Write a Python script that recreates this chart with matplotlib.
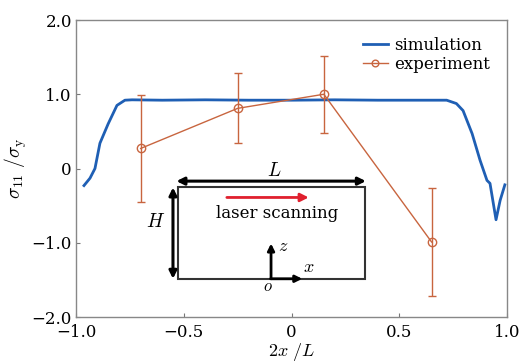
import matplotlib
matplotlib.use("Agg")
import matplotlib.pyplot as plt
from matplotlib.patches import Rectangle

plt.rcParams["font.family"] = "DejaVu Serif"
plt.rcParams["mathtext.fontset"] = "cm"
plt.rcParams["axes.unicode_minus"] = True

# simulation curve
x_sim = [-0.963, -0.935, -0.912, -0.889, -0.851, -0.81, -0.773, -0.74, -0.6, -0.4, -0.2,
         0.0, 0.2, 0.4, 0.6, 0.72, 0.765, 0.796, 0.838, 0.875, 0.907, 0.921, 0.949, 0.968, 0.99]
y_sim = [-0.23, -0.13, 0.0, 0.34, 0.60, 0.85, 0.92, 0.925, 0.92, 0.925, 0.92,
         0.92, 0.925, 0.92, 0.92, 0.92, 0.875, 0.78, 0.47, 0.11, -0.16, -0.2, -0.69, -0.43, -0.22]

# experiment points with error bars
x_exp = [-0.7, -0.25, 0.15, 0.65]
y_exp = [0.27, 0.81, 1.0, -0.99]
err_exp = [0.72, 0.47, 0.52, 0.73]

xticks = [-1.0, -0.5, 0, 0.5, 1.0]
xtick_labels = ["\u22121.0", "\u22120.5", "0", "0.5", "1.0"]
yticks = [-2.0, -1.0, 0, 1.0, 2.0]
ytick_labels = ["\u22122.0", "\u22121.0", "0", "1.0", "2.0"]

blue = "#1f5fb4"
orange = "#c8653f"

fig = plt.figure(figsize=(5.22, 3.63), dpi=100)
ax = fig.add_axes([0.1456, 0.1267, 0.8257, 0.8182])

ax.plot(x_sim, y_sim, color=blue, lw=2.0, label="simulation")
ax.errorbar(x_exp, y_exp, yerr=err_exp, fmt="none", ecolor=orange,
            elinewidth=1.0, capsize=2.8, capthick=1.0)
ax.plot(x_exp, y_exp, color=orange, lw=1.0, marker="o", markersize=6,
        markerfacecolor="none", markeredgecolor=orange, markeredgewidth=1.0,
        label="experiment")

ax.set_xlim(-1.0, 1.0)
ax.set_ylim(-2.0, 2.0)
ax.set_xticks(xticks)
ax.set_xticklabels(xtick_labels)
ax.set_yticks(yticks)
ax.set_yticklabels(ytick_labels)
ax.tick_params(direction="in", length=3, width=0.8, color="#777777",
               labelsize=12, pad=3)
ax.tick_params(axis="x", pad=5)
for sp in ax.spines.values():
    sp.set_color("#888888")
    sp.set_linewidth(1.0)

ax.set_xlabel(r"$2x\ /L$", fontsize=13, labelpad=0)
ax.set_ylabel(r"$\sigma_{11}\ /\sigma_{\rm y}$", fontsize=14, labelpad=2)

ax.legend(loc="upper right", frameon=False, fontsize=12, handlelength=1.5,
          handletextpad=0.4, borderaxespad=0.6, labelspacing=0.15,
          markerscale=0.8)

# sketch of the plate
ax.add_patch(Rectangle((-0.527, -1.485), 0.87, 1.23, fill=False,
                       edgecolor="#333333", lw=1.5, zorder=3))
black_arrow = dict(arrowstyle="<|-|>", color="black", lw=2.2, mutation_scale=11,
                   shrinkA=0, shrinkB=0)
ax.annotate("", xy=(0.345, -0.17), xytext=(-0.534, -0.17), arrowprops=black_arrow)
ax.annotate("", xy=(-0.55, -1.485), xytext=(-0.55, -0.255), arrowprops=black_arrow)
ax.text(-0.08, -0.03, r"$L$", fontsize=14, ha="center", va="center")
ax.text(-0.63, -0.72, r"$H$", fontsize=14, ha="center", va="center")

ax.annotate("", xy=(0.08, -0.39), xytext=(-0.30, -0.39),
            arrowprops=dict(arrowstyle="-|>", color="#e0202e", lw=2.0,
                            mutation_scale=12, shrinkA=0, shrinkB=0))
ax.text(-0.067, -0.61, "laser scanning", fontsize=12, ha="center", va="center")

# coordinate axes inside the plate
axis_arrow = dict(arrowstyle="-|>", color="black", lw=2.0, mutation_scale=10,
                  shrinkA=0, shrinkB=0)
ax.annotate("", xy=(-0.095, -1.01), xytext=(-0.095, -1.485), arrowprops=axis_arrow)
ax.annotate("", xy=(0.05, -1.485), xytext=(-0.097, -1.485), arrowprops=axis_arrow)
ax.text(-0.04, -1.05, r"$z$", fontsize=13, ha="center", va="center")
ax.text(0.08, -1.33, r"$x$", fontsize=13, ha="center", va="center")
ax.text(-0.108, -1.59, r"$o$", fontsize=12, ha="center", va="center")

fig.savefig("out.png", dpi=100)
